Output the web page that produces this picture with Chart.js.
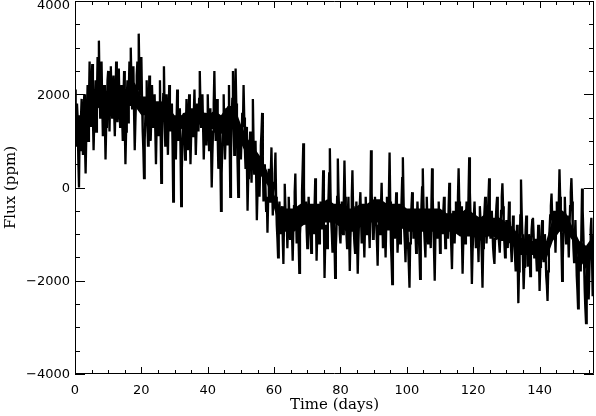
<!DOCTYPE html>
<html lang="en">
<head>
    <meta charset="UTF-8">
    <title>Flux light curve</title>
    <script src="https://cdn.jsdelivr.net/npm/chart.js"></script>
    <style>
        html, body { margin: 0; padding: 0; background: #fff; }
        #wrap { width: 596px; height: 416px; }
    </style>
</head>
<body>
    <div id="wrap"><canvas id="lc"></canvas></div>
    <script>
// Sampling of the series (days)
var tStart = 0;
var tStep = 0.2;

// Flux (ppm), one value per sample in 10-day blocks
var flux = [
    // 0 - 9.8
    2100, 1300, 900, 1800, 1500, 600, 0, 1200, 800, 1500, 1900, 1100, 700, 1600, 2000, 900, 300, 1100, 1600, 2200,
    1000, 1800, 2700, 1600, 1300, 2200, 2650, 1500, 800, 1400, 1900, 2300, 1200, 1900, 2800, 2000, 3150, 2200, 1500, 2300,
    2700, 1800, 1100, 1600, 2200, 1400, 600, 1300, 1700, 2300,
    // 10 - 19.8
    2500, 1700, 1200, 2000, 2600, 1900, 1500, 2100, 2400, 1600, 1100, 1800, 2700, 2000, 1400, 1900, 2550, 1800, 1300, 1700,
    2200, 1500, 1000, 1900, 2500, 1300, 500, 1200, 1900, 2300, 1400, 2000, 2700, 2200, 3000, 2300, 1700, 2200, 2600, 1600,
    800, 1400, 1900, 2400, 2700, 2100, 3300, 2500, 2000, 2400,
    // 20 - 29.8
    2800, 1900, 1200, 800, 200, 1000, 1500, 1900, 2300, 1400, 900, 1600, 2400, 1700, 1000, 1500, 2200, 1700, 1300, 1800,
    2000, 1200, 500, 1300, 1800, 1400, 1100, 1700, 2300, 1200, 100, 900, 1500, 2000, 2600, 1700, 900, 1400, 2000, 1300,
    700, 1500, 2200, 1600, 1200, 1500, 1800, 900, -300, 700,
    // 30 - 39.8
    1500, 1000, 600, 1400, 2100, 1500, 1000, 1300, 1700, 800, -400, 400, 1000, 1300, 1600, 1100, 600, 1200, 1900, 1300,
    800, 1400, 2000, 1200, 500, 1100, 1700, 1400, 1100, 1600, 2100, 1400, 700, 1200, 1800, 1500, 1200, 1900, 2500, 1800,
    1300, 1700, 2000, 1300, 600, 1100, 1600, 1200, 900, 1500,
    // 40 - 49.8
    2000, 1400, 800, 1300, 1700, 900, 0, 700, 1200, 1800, 2500, 1600, 1000, 1500, 1900, 1100, 400, 1000, 1500, 600,
    -500, 300, 900, 1500, 2000, 1200, 600, 1100, 1700, 1300, 900, 1600, 2200, 1000, -200, 600, 1400, 1900, 2500, 1500,
    700, 1600, 2550, 1800, 1200, 500, -200, 600, 1300, 1000,
    // 50 - 59.8
    600, 1100, 1600, 1300, 2200, 1500, 800, 400, 1300, 500, -500, 200, 700, 900, 1200, 600, 100, 800, 1900, 1000,
    300, 600, 1000, 200, -700, -100, 600, 300, -200, 400, 900, 1200, 1600, 600, -300, 200, 500, 0, -500, -200,
    -970, -300, 400, 100, -300, 300, 860, 100, -600, -100,
    // 60 - 69.8
    100, 300, 750, -200, -800, -1100, -1500, -900, -300, -700, -1000, -600, -400, -1100, -1640, -700, 80, -400, -900, -700,
    -1300, -800, -200, -600, -1100, -800, -600, -1000, -1570, -900, -400, -100, 300, -600, -1200, -900, -500, -1200, -1830, -1000,
    -700, -400, -100, 400, 950, 0, -800, -500, -300, -900,
    // 70 - 79.8
    -1300, -700, -200, -600, -900, -1100, -1400, -800, -500, -700, -1000, -400, 200, -600, -1570, -1000, -600, -900, -1200, -700,
    -300, -600, -900, -300, 370, -800, -1940, -1200, -800, -1000, -1300, -700, -200, 300, 840, -100, -700, -1000, -1400, -800,
    -400, -1200, -1940, -1300, -900, -200, 620, -100, -500, -1000,
    // 80 - 89.8
    -1200, -700, -300, -800, -1000, -300, 580, -200, -700, -1000, -1300, -600, -200, -1000, -1790, -1100, -600, -200, 370, -400,
    -900, -1200, -1400, -700, -300, -1100, -1850, -1200, -700, -400, -100, -700, -1200, -800, -500, -1000, -1500, -800, -200, -600,
    -1000, -700, -400, -900, -1300, -300, 800, -100, -600, -1100,
    // 90 - 99.8
    -1100, -600, -200, -500, -800, -1200, -1680, -900, -400, -700, -1000, -400, 100, -600, -1300, -900, -600, -1000, -1500, -800,
    -200, -500, -900, -100, 750, -300, -1200, -1600, -2070, -1100, -500, -800, -1100, -600, -100, -700, -1400, -1000, -700, -900,
    -1200, -600, -300, 200, 650, -200, -900, -1200, -1600, -1000,
    // 100 - 109.8
    -500, -900, -1300, -1700, -2150, -1200, -700, -400, -100, -600, -1100, -800, -600, -1000, -1400, -800, -300, -700, -1000, -1400,
    -1960, -1000, -400, 0, 410, -300, -900, -1200, -1500, -700, -200, -700, -1200, -900, -700, -1000, -1300, -400, 410, -200,
    -800, -1400, -2000, -1100, -500, -800, -1100, -700, -300, -800,
    // 110 - 119.8
    -1400, -1000, -600, -800, -1000, -500, -200, -800, -1300, -1000, -700, -900, -1100, -400, 100, -400, -900, -1300, -1750, -1000,
    -500, -900, -1200, -700, -300, -600, -800, -200, 410, -300, -1000, -700, -400, -1100, -1850, -1200, -700, -1000, -1200, -700,
    -300, -600, -900, -100, 650, -100, -600, -1300, -2070, -1400,
    // 120 - 129.8
    -1000, -600, -300, -800, -1300, -1000, -700, -1100, -1600, -900, -400, -700, -1000, -1500, -2150, -1300, -800, -500, -200, -700,
    -1200, -900, -600, -200, 200, -500, -1100, -800, -500, -900, -1300, -1500, -1640, -1100, -700, -400, -200, -600, -1000, -1200,
    -1400, -900, -500, -200, 90, -400, -900, -1200, -1500, -1000,
    // 130 - 139.8
    -700, -1000, -1300, -800, -300, -700, -1000, -1300, -1600, -1100, -600, -900, -1200, -1500, -1800, -1300, -800, -1600, -2480, -1800,
    -1400, -600, 170, -500, -1000, -1600, -2180, -1700, -1300, -900, -600, -1100, -1700, -1300, -1000, -1400, -1900, -1300, -900, -700,
    -650, -1000, -1500, -1200, -1100, -1500, -1800, -1300, -800, -1500,
    // 140 - 149.8
    -2220, -1700, -1200, -900, -700, -1200, -1600, -1300, -1000, -1400, -1900, -2100, -2435, -1800, -1300, -900, -600, -400, -130, -600,
    -1100, -800, -500, -900, -1400, -800, -300, -500, -800, -300, 390, -200, -600, -1300, -2000, -1500, -1000, -600, -200, -700,
    -1200, -900, -600, -1000, -1500, -900, -400, -100, 200, -300,
    // 150 - 156.4
    -900, -1300, -1600, -1100, -700, -1300, -1900, -2200, -2590, -1800, -1200, -1500, -1800, -900, -20, -500, -1000, -1600, -2200, -2600,
    -2910, -2200, -1600, -2000, -2400, -1800, -1300, -900, -650, -1500, -2330, -1600, -1000
];

// Dense core of the curve (where the samples blacken the band), every 2 days
var coreStep = 2;
var coreHigh = [
    1550, 1550, 1750, 2050, 2150, 2050, 2150, 2050, 2150, 2250,
    1950, 1950, 1850, 1850, 1750, 1550, 1550, 1650, 1650, 1650,
    1550, 1650, 1550, 1750, 1750, 1350, 1050, 850, 650, 350,
    -150, -450, -450, -450, -350, -350, -350, -350, -250, -350,
    -350, -450, -450, -350, -350, -250, -250, -350, -350, -350,
    -450, -450, -450, -450, -450, -450, -550, -550, -550, -450,
    -550, -650, -550, -650, -650, -750, -850, -1050, -1150, -1150,
    -1150, -1150, -650, -450, -550, -850, -1150, -1250, -1050
];
var coreLow = [
    1050, 1150, 1350, 1650, 1750, 1750, 1750, 1650, 1750, 1750,
    1550, 1550, 1450, 1450, 1350, 1250, 1250, 1350, 1350, 1350,
    1250, 1250, 1150, 1250, 1250, 950, 650, 450, 250, 50,
    -450, -950, -950, -950, -850, -750, -750, -750, -750, -750,
    -850, -950, -950, -850, -750, -750, -750, -850, -850, -850,
    -950, -950, -950, -950, -950, -950, -950, -950, -1050, -1050,
    -1050, -1150, -1050, -1050, -1150, -1150, -1250, -1450, -1450, -1450,
    -1550, -1550, -1150, -950, -950, -1150, -1550, -1750, -1450
];

// Axis ranges and ticks
var xMin = 0, xMax = 156.4, xMajor = 20, xMinor = 5;
var yMin = -4000, yMax = 4000, yMajor = 2000, yMinor = 500;
var xLabels = [0, 20, 40, 60, 80, 100, 120, 140];
var yLabels = [-4000, -2000, 0, 2000, 4000];

function toPoints(arr, step) {
    return arr.map(function (v, i) {
        return { x: +(tStart + i * step).toFixed(2), y: v };
    });
}

// IDL-style frame with inward ticks on all four sides, plus y labels
var idlFrame = {
    id: 'idlFrame',
    afterDraw: function (chart) {
        var c = chart.ctx, a = chart.chartArea;
        var sx = chart.scales.x, sy = chart.scales.y;
        c.save();
        c.strokeStyle = '#000';
        c.lineWidth = 1;
        c.beginPath();
        c.rect(a.left + 0.5, a.top + 0.5, a.right - a.left - 1, a.bottom - a.top - 1);
        var v, p, len;
        for (v = xMin; v <= xMax; v += xMinor) {
            p = Math.round(sx.getPixelForValue(v)) + 0.5;
            len = (v % xMajor === 0) ? 7 : 4;
            c.moveTo(p, a.bottom); c.lineTo(p, a.bottom - len);
            c.moveTo(p, a.top); c.lineTo(p, a.top + len);
        }
        for (v = yMin; v <= yMax; v += yMinor) {
            p = Math.round(sy.getPixelForValue(v)) + 0.5;
            len = (v % yMajor === 0) ? 10 : 5;
            c.moveTo(a.left, p); c.lineTo(a.left + len, p);
            c.moveTo(a.right, p); c.lineTo(a.right - len, p);
        }
        c.stroke();

        c.fillStyle = '#000';
        c.font = '13px "DejaVu Sans"';
        c.textAlign = 'right';
        c.textBaseline = 'middle';
        yLabels.forEach(function (val) {
            var py = Math.max(sy.getPixelForValue(val) + 1, 6);
            var txt = val < 0 ? '\u2212' + Math.abs(val) : String(val);
            c.fillText(txt, a.left - 5, py);
        });
        c.restore();
    }
};

var ctx = document.getElementById('lc').getContext('2d');
var chart = new Chart(ctx, {
    type: 'line',
    data: {
        datasets: [{
            data: toPoints(flux, tStep),
            borderColor: '#000',
            borderWidth: 2.3,
            pointRadius: 0,
            tension: 0,
            fill: false
        }, {
            data: toPoints(coreHigh, coreStep),
            borderWidth: 0,
            pointRadius: 0,
            backgroundColor: '#000',
            fill: '+1'
        }, {
            data: toPoints(coreLow, coreStep),
            borderWidth: 0,
            pointRadius: 0,
            fill: false
        }]
    },
    options: {
        responsive: true,
        maintainAspectRatio: false,
        animation: false,
        layout: { padding: { top: 1, right: 2, bottom: 0, left: 0 } },
        plugins: { legend: { display: false }, tooltip: { enabled: false } },
        scales: {
            x: {
                type: 'linear',
                min: xMin,
                max: xMax,
                grid: { display: false, drawTicks: false },
                border: { display: false },
                afterBuildTicks: function (s) {
                    s.ticks = xLabels.map(function (v) { return { value: v }; });
                },
                afterFit: function (s) {
                    s.height = 42;
                    s.paddingLeft = 0;
                    s.paddingRight = 0;
                },
                ticks: {
                    autoSkip: false,
                    maxRotation: 0,
                    padding: 9,
                    color: '#000',
                    font: { family: 'DejaVu Sans', size: 13 }
                },
                title: {
                    display: true,
                    text: 'Time (days)',
                    color: '#000',
                    padding: { top: 0, bottom: 2 },
                    font: { family: 'DejaVu Serif', size: 15 }
                }
            },
            y: {
                min: yMin,
                max: yMax,
                grid: { display: false, drawTicks: false },
                border: { display: false },
                afterFit: function (s) {
                    s.width = 75;
                    s.paddingTop = 0;
                    s.paddingBottom = 0;
                },
                ticks: {
                    stepSize: yMajor,
                    color: 'rgba(0,0,0,0)',
                    font: { family: 'DejaVu Sans', size: 13 }
                },
                title: {
                    display: true,
                    text: 'Flux (ppm)',
                    color: '#000',
                    padding: { top: 2, bottom: 0 },
                    font: { family: 'DejaVu Serif', size: 15 }
                }
            }
        }
    },
    plugins: [idlFrame]
});
    </script>
</body>
</html>
